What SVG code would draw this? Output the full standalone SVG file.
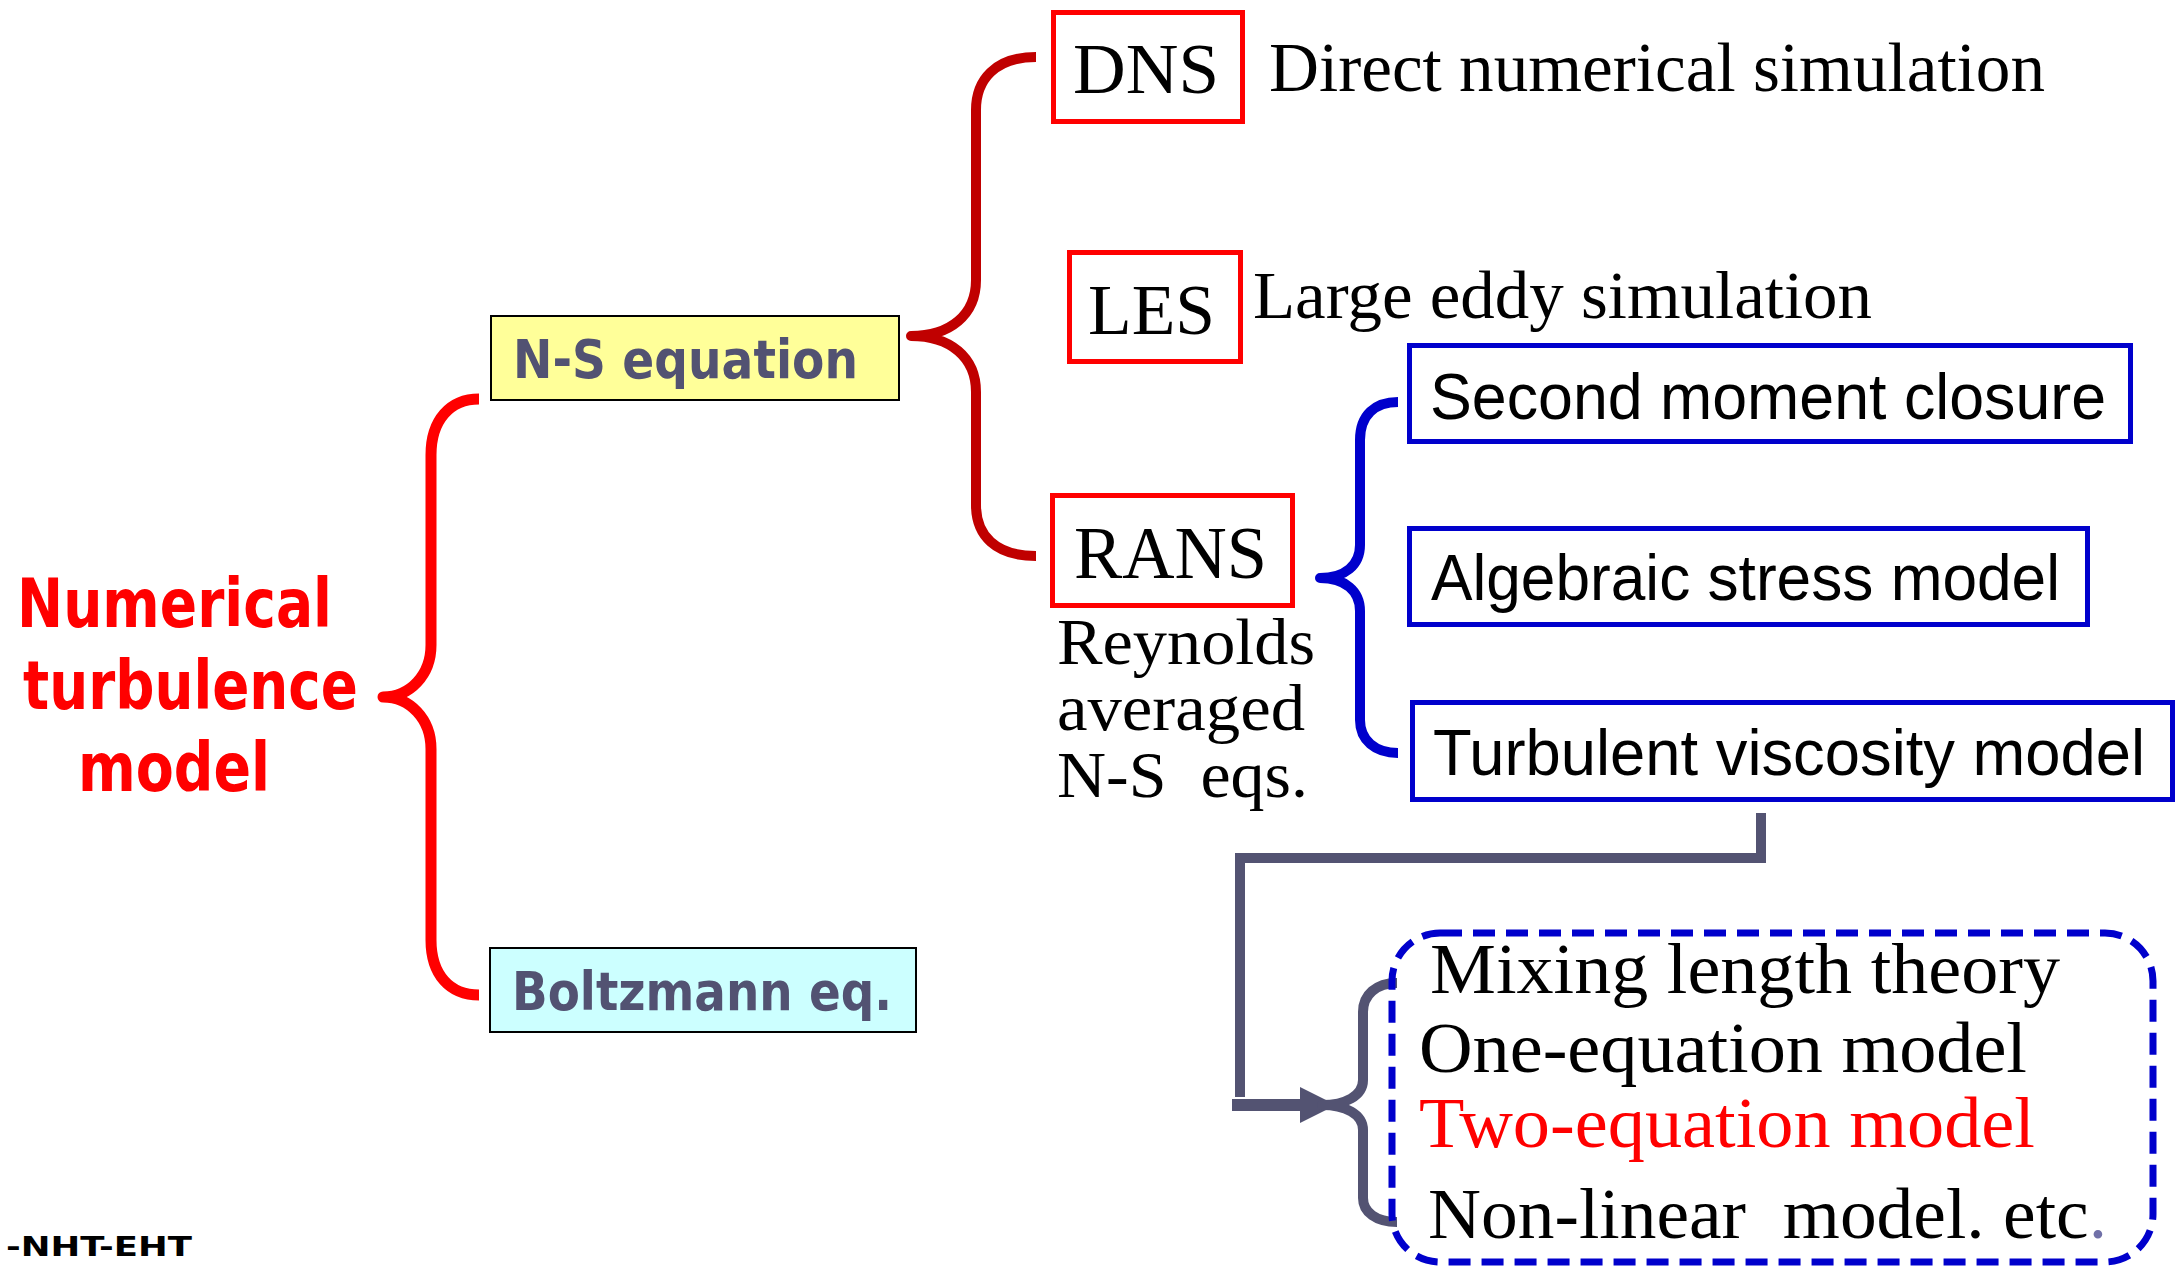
<svg xmlns="http://www.w3.org/2000/svg" width="2181" height="1267" viewBox="0 0 2181 1267">
<style>
.serif{font-family:"Liberation Serif","Times New Roman",serif;fill:#000}
.sans{font-family:"Liberation Sans",Arial,sans-serif;fill:#000}
.bold{font-family:"DejaVu Sans","Liberation Sans",sans-serif;font-weight:bold}
.redbox{fill:#fff;stroke:#FF0000;stroke-width:5}
.bluebox{fill:#fff;stroke:#0000CC;stroke-width:5}
.brace{fill:none;stroke-linejoin:round;stroke-linecap:butt}
.gray{stroke:#535372;fill:none}
</style>
<rect width="2181" height="1267" fill="#fff"/>

<g id="connectors">
  <path class="brace" stroke="#FF0000" stroke-width="11" d="M479,399 C450,399 431,420 431,455 L431,645 C431,675 410,697 383,697 C410,697 431,719 431,749 L431,940 C431,975 450,995 479,995"/>
  <path class="brace" stroke="#C00000" stroke-width="10" d="M1036,57 C995,57 976,80 976,110 L976,280 C976,315 950,336 911,336 C950,336 976,357 976,392 L976,505 C976,535 995,556 1036,556"/>
  <path class="brace" stroke="#0000CC" stroke-width="10" d="M1398,402 C1375,402 1360,415 1360,440 L1360,545 C1360,565 1345,578 1320,578 C1345,578 1360,591 1360,611 L1360,720 C1360,740 1375,753 1398,753"/>
  <path class="gray" stroke-width="10" d="M1761,813 L1761,858 L1240,858 L1240,1097"/>
  <line class="gray" stroke-width="12" x1="1232" y1="1105" x2="1304" y2="1105"/>
  <polygon fill="#535372" points="1300,1087 1336,1105 1300,1123"/>
  <path class="brace gray" stroke-width="10" d="M1397,983 C1376,983 1363,995 1363,1012 L1363,1080 C1363,1096 1345,1105 1322,1105 C1345,1105 1363,1114 1363,1130 L1363,1198 C1363,1212 1376,1222 1397,1222"/>
</g>

<g id="title">
  <text class="bold" fill="#FF0000" font-size="67" x="17" y="627" textLength="315" lengthAdjust="spacingAndGlyphs">Numerical</text>
  <text class="bold" fill="#FF0000" font-size="67" x="23" y="709" textLength="335" lengthAdjust="spacingAndGlyphs">turbulence</text>
  <text class="bold" fill="#FF0000" font-size="67" x="78" y="791" textLength="192" lengthAdjust="spacingAndGlyphs">model</text>
</g>

<g id="ns">
  <rect x="491" y="316" width="408" height="84" fill="#FFFF99" stroke="#000" stroke-width="2"/>
  <text class="bold" fill="#525272" font-size="53" x="513" y="378" textLength="345" lengthAdjust="spacingAndGlyphs">N-S equation</text>
</g>

<g id="boltzmann">
  <rect x="490" y="948" width="426" height="84" fill="#CCFFFF" stroke="#000" stroke-width="2"/>
  <text class="bold" fill="#525272" font-size="53" x="512" y="1010" textLength="380" lengthAdjust="spacingAndGlyphs">Boltzmann eq.</text>
</g>

<g id="dns">
  <rect class="redbox" x="1053.5" y="12.5" width="189" height="109"/>
  <text class="serif" font-size="72" x="1073" y="93" textLength="146" lengthAdjust="spacingAndGlyphs">DNS</text>
  <text class="serif" font-size="70" x="1269" y="91" textLength="776" lengthAdjust="spacingAndGlyphs">Direct numerical simulation</text>
</g>

<g id="les">
  <rect class="redbox" x="1069.5" y="252.5" width="171" height="109"/>
  <text class="serif" font-size="72" x="1088" y="334" textLength="127" lengthAdjust="spacingAndGlyphs">LES</text>
  <text class="serif" font-size="68" x="1253" y="318" textLength="619" lengthAdjust="spacingAndGlyphs">Large eddy simulation</text>
</g>

<g id="rans">
  <rect class="redbox" x="1052.5" y="495.5" width="240" height="110"/>
  <text class="serif" font-size="73" x="1074" y="578" textLength="193" lengthAdjust="spacingAndGlyphs">RANS</text>
  <text class="serif" font-size="65" x="1057" y="664" textLength="258" lengthAdjust="spacingAndGlyphs">Reynolds</text>
  <text class="serif" font-size="65" x="1057" y="730" textLength="248" lengthAdjust="spacingAndGlyphs">averaged</text>
  <text class="serif" font-size="65" x="1057" y="797" textLength="251" lengthAdjust="spacingAndGlyphs" style="white-space:pre">N-S  eqs.</text>
</g>

<g id="smc">
  <rect class="bluebox" x="1409.5" y="345.5" width="721" height="96"/>
  <text class="sans" font-size="64" x="1430" y="419" textLength="676" lengthAdjust="spacingAndGlyphs">Second moment closure</text>
</g>

<g id="asm">
  <rect class="bluebox" x="1409.5" y="528.5" width="678" height="96"/>
  <text class="sans" font-size="64" x="1431" y="600" textLength="629" lengthAdjust="spacingAndGlyphs">Algebraic stress model</text>
</g>

<g id="tvm">
  <rect class="bluebox" x="1412.5" y="702.5" width="760" height="97"/>
  <text class="sans" font-size="64" x="1433" y="775" textLength="712" lengthAdjust="spacingAndGlyphs">Turbulent viscosity model</text>
</g>

<g id="models">
  <rect x="1392" y="933" width="761" height="329" rx="48" ry="48" fill="none" stroke="#0000CC" stroke-width="7" stroke-dasharray="22 11"/>
  <text class="serif" font-size="72" x="1430" y="993" textLength="630" lengthAdjust="spacingAndGlyphs">Mixing length theory</text>
  <text class="serif" font-size="72" x="1419" y="1072" textLength="608" lengthAdjust="spacingAndGlyphs">One-equation model</text>
  <text class="serif" font-size="72" x="1419" y="1147" textLength="616" lengthAdjust="spacingAndGlyphs" style="fill:#FF0000">Two-equation model</text>
  <text class="serif" font-size="72" x="1428" y="1238" textLength="679" lengthAdjust="spacingAndGlyphs" style="white-space:pre">Non-linear  model. etc<tspan fill="#7070A8">.</tspan></text>
</g>

<g id="footer">
  <text class="bold" fill="#000" font-size="27" x="6" y="1256" textLength="186" lengthAdjust="spacingAndGlyphs">-NHT-EHT</text>
</g>
</svg>
